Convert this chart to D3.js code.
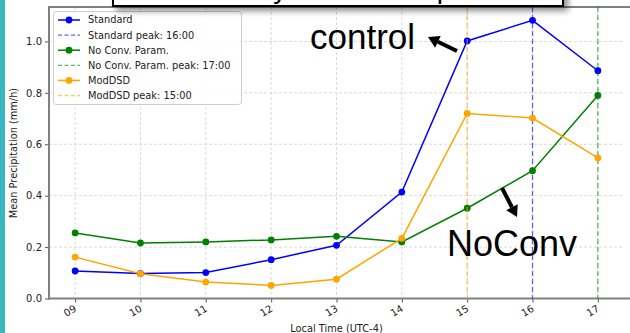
<!DOCTYPE html>
<html><head><meta charset="utf-8">
<script src="https://cdn.jsdelivr.net/npm/d3@7"></script>
<style>body{margin:0;background:#fff}svg{display:block}</style>
</head><body>
<svg id="c" width="630" height="333"></svg>
<script>
const hours = ["09","10","11","12","13","14","15","16","17"];
const standard = [0.107, 0.097, 0.101, 0.151, 0.207, 0.414, 1.002, 1.082, 0.886];
const noConv   = [0.255, 0.216, 0.220, 0.228, 0.242, 0.220, 0.351, 0.497, 0.790];
const modDSD   = [0.161, 0.096, 0.064, 0.051, 0.075, 0.234, 0.720, 0.702, 0.547];
const yTicks = [0.0, 0.2, 0.4, 0.6, 0.8, 1.0];
const seriesNames = ["Standard", "No Conv. Param.", "ModDSD"];
const peakLabels = ["Standard peak: 16:00", "No Conv. Param. peak: 17:00", "ModDSD peak: 15:00"];
const peakHours = ["16", "17", "15"];
const colors = ["#0000ff", "#008000", "#ffa500"];
const yLabel = "Mean Precipitation (mm/h)";
const xLabel = "Local Time (UTC-4)";
const titleText = "Daily Mean Precipitation";
const noteControl = "control";
const noteNoConv = "NoConv";

const svg = d3.select("#c");
const W = 630, H = 333;
const x = d3.scaleLinear().domain([-0.4, 8.4]).range([49, 624]);
const y = d3.scaleLinear().domain([0, 1.134]).range([298.5, 7]);
const xi = h => x(hours.indexOf(h));

// teal side bar
svg.append("rect").attr("x",0).attr("y",0).attr("width",5).attr("height",H).attr("fill","#3ab6c0");

// grid
const g = svg.append("g");
g.selectAll(".gy").data(yTicks).join("line")
  .attr("x1",49).attr("x2",624).attr("y1",d=>y(d)).attr("y2",d=>y(d))
  .attr("stroke","#d0d0d0").attr("stroke-width",0.8).attr("stroke-dasharray","3,2");
g.selectAll(".gx").data(hours).join("line")
  .attr("x1",(d,i)=>x(i)).attr("x2",(d,i)=>x(i)).attr("y1",7).attr("y2",298.5)
  .attr("stroke","#d0d0d0").attr("stroke-width",0.8).attr("stroke-dasharray","3,2");

// axes
const yAxis = d3.axisLeft(y).tickValues(yTicks).tickFormat(d3.format(".1f")).tickSize(4).tickPadding(3);
const ya = svg.append("g").attr("transform","translate(49,0)").call(yAxis);
ya.select(".domain").remove();
ya.selectAll("line").attr("stroke","#555");
ya.selectAll("text").attr("font-family","DejaVu Sans").attr("font-size",10).attr("fill","#222");

const xAxis = d3.axisBottom(x).tickValues(d3.range(hours.length)).tickFormat(i=>hours[i]).tickSize(4).tickPadding(3);
const xa = svg.append("g").attr("transform","translate(0,298.5)").call(xAxis);
xa.select(".domain").remove();
xa.selectAll("line").attr("stroke","#555");
xa.selectAll("text").attr("font-family","DejaVu Sans").attr("font-size",10).attr("fill","#222")
  .attr("text-anchor","end").attr("dy","0.35em").attr("transform","translate(0,9) rotate(-30)").attr("y",0);

// spines
svg.append("line").attr("x1",49).attr("x2",49).attr("y1",7).attr("y2",299.5).attr("stroke","#808080").attr("stroke-width",2);
svg.append("line").attr("x1",48).attr("x2",630).attr("y1",298.5).attr("y2",298.5).attr("stroke","#808080").attr("stroke-width",2);
svg.append("line").attr("x1",48).attr("x2",630).attr("y1",7).attr("y2",7).attr("stroke","#808080").attr("stroke-width",2);

// series
const allSeries = [standard, noConv, modDSD];
const line = d3.line().x((d,i)=>x(i)).y(d=>y(d));
allSeries.forEach((s,k)=>{
  svg.append("path").attr("d",line(s)).attr("fill","none").attr("stroke",colors[k]).attr("stroke-width",1.5);
  svg.append("g").selectAll("circle").data(s).join("circle")
    .attr("cx",(d,i)=>x(i)).attr("cy",d=>y(d)).attr("r",3.4).attr("fill",colors[k]);
  svg.append("line").attr("x1",xi(peakHours[k])).attr("x2",xi(peakHours[k])).attr("y1",7).attr("y2",298.5)
    .attr("stroke",colors[k]).attr("stroke-opacity",0.6).attr("stroke-width",1.3).attr("stroke-dasharray","5,3");
});

// legend
const lg = svg.append("g");
lg.append("rect").attr("x",53.5).attr("y",11.5).attr("width",188).attr("height",93).attr("rx",3)
  .attr("fill","#fff").attr("fill-opacity",0.85).attr("stroke","#cccccc");
const entries = [];
seriesNames.forEach((n,k)=>{ entries.push({t:n,c:colors[k],dash:false}); entries.push({t:peakLabels[k],c:colors[k],dash:true}); });
entries.forEach((e,j)=>{
  const yy = 20 + j*15.1;
  lg.append("line").attr("x1",58).attr("x2",80).attr("y1",yy).attr("y2",yy).attr("stroke",e.c)
    .attr("stroke-width",e.dash?1.3:1.5).attr("stroke-dasharray",e.dash?"4,2.5":null).attr("stroke-opacity",e.dash?0.6:1);
  if(!e.dash) lg.append("circle").attr("cx",69).attr("cy",yy).attr("r",3.4).attr("fill",e.c);
  lg.append("text").attr("x",88).attr("y",yy).attr("dy","0.35em").attr("font-family","DejaVu Sans")
    .attr("font-size",9.8).attr("fill","#222").text(e.t);
});

// axis labels
svg.append("text").attr("transform","translate(17,153) rotate(-90)").attr("text-anchor","middle")
  .attr("font-family","DejaVu Sans").attr("font-size",9.8).attr("fill","#222").text(yLabel);
svg.append("text").attr("x",336.5).attr("y",332).attr("text-anchor","middle")
  .attr("font-family","DejaVu Sans").attr("font-size",9.8).attr("fill","#222").text(xLabel);

// title box with shadow (cropped at top)
const defs = svg.append("defs");
const f = defs.append("filter").attr("id","sh").attr("x","-10%").attr("y","-50%").attr("width","130%").attr("height","250%");
f.append("feGaussianBlur").attr("in","SourceAlpha").attr("stdDeviation",3);
f.append("feOffset").attr("dx",4).attr("dy",4).attr("result","b");
f.append("feComponentTransfer").append("feFuncA").attr("type","linear").attr("slope",0.45);
const fm = f.append("feMerge"); fm.append("feMergeNode"); fm.append("feMergeNode").attr("in","SourceGraphic");
defs.append("clipPath").attr("id","bx").append("rect").attr("x",113).attr("y",-40).attr("width",450).attr("height",46);
svg.append("rect").attr("x",113).attr("y",-40).attr("width",450).attr("height",46)
  .attr("fill","#fff").attr("stroke","#000").attr("stroke-width",2).attr("filter","url(#sh)");
svg.append("text").attr("clip-path","url(#bx)").attr("x",225).attr("y",-2)
  .attr("font-family","Liberation Sans").attr("font-size",28).attr("fill","#000").text(titleText);

// annotations
svg.append("text").attr("x",310).attr("y",49).attr("font-family","Liberation Sans").attr("font-size",35).attr("fill","#000").text(noteControl);
svg.append("text").attr("x",447).attr("y",256).attr("font-family","Liberation Sans").attr("font-size",36).attr("fill","#000").text(noteNoConv);

function arrow(x1,y1,x2,y2){
  const a = Math.atan2(y2-y1,x2-x1), L=11, Wd=6.5;
  const bx = x2 - L*Math.cos(a), by = y2 - L*Math.sin(a);
  svg.append("line").attr("x1",x1).attr("y1",y1).attr("x2",bx).attr("y2",by).attr("stroke","#000").attr("stroke-width",4);
  const px = -Math.sin(a)*Wd, py = Math.cos(a)*Wd;
  svg.append("path").attr("d",`M${x2},${y2}L${bx+px},${by+py}L${bx-px},${by-py}Z`).attr("fill","#000");
}
arrow(457,51,428,37);
arrow(502,188,517,217);
</script>
</body></html>
